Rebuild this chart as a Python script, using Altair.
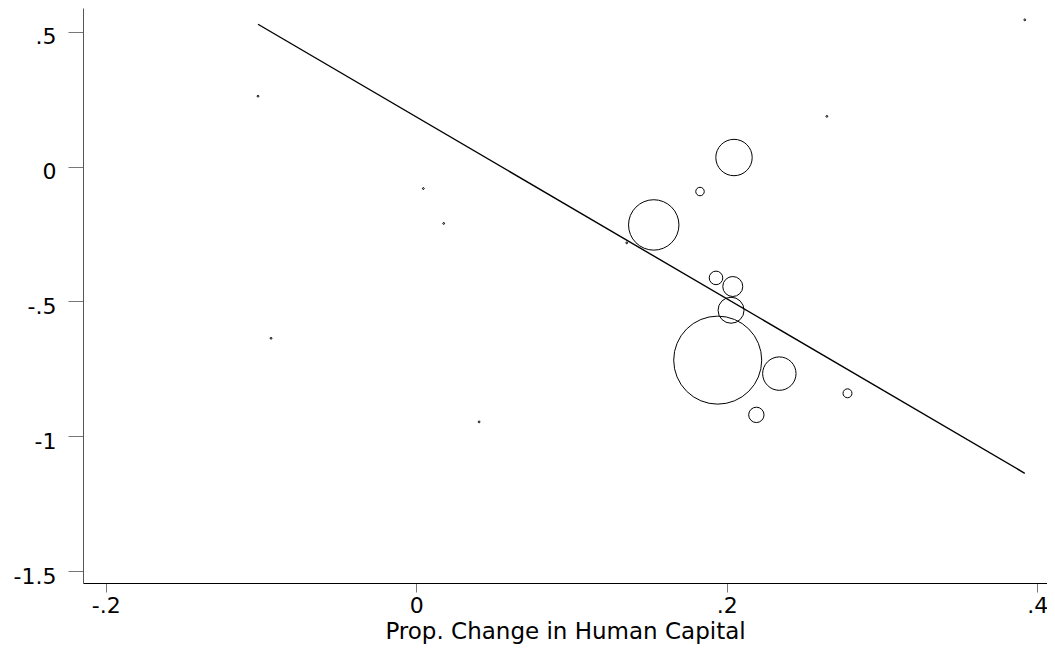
import altair as alt
import pandas as pd

# Observations: x = proportional change in human capital, y = outcome, w = weight
pt_x = [-0.1019, -0.0935, 0.0046, 0.0177, 0.0405, 0.1356, 0.2645, 0.3920,
        0.2047, 0.1828, 0.1530, 0.1931, 0.2039, 0.2028, 0.1942, 0.2339, 0.2191, 0.2778]
pt_y = [0.2608, -0.6370, -0.0816, -0.2110, -0.9470, -0.2830, 0.1860, 0.5440,
        0.0334, -0.0927, -0.2166, -0.4130, -0.4450, -0.5330, -0.7180, -0.7680, -0.9210, -0.8410]
pt_w = [0.8, 0.8, 0.8, 0.8, 0.8, 0.8, 0.8, 0.8,
        331, 18, 635, 46, 100, 169, 1936, 279, 59, 20]

# Fitted line endpoints
fit_x = [-0.1019, 0.3920]
fit_y = [0.5277, -1.1376]

pts = pd.DataFrame({"x": pt_x, "y": pt_y, "w": pt_w})
fit = pd.DataFrame({"x": fit_x, "y": fit_y})

FONT = "DejaVu Sans"
xscale = alt.Scale(domain=[-0.21462, 0.4063], nice=False, zero=False)
yscale = alt.Scale(domain=[-1.5445, 0.5879], nice=False, zero=False)
lab = "replace(replace(format(datum.value, '~g'), '\u2212', '-'), '0.', '.')"

xaxis = alt.Axis(values=[-0.2, 0, 0.2, 0.4], labelExpr=lab, grid=False,
                 domainColor="#000000", domainWidth=1, tickColor="#777777",
                 tickSize=9, labelPadding=3, labelFont=FONT, labelFontSize=22,
                 labelColor="#000000", title="Prop. Change in Human Capital",
                 titleFont=FONT, titleFontSize=23, titleFontWeight="normal",
                 titleColor="#000000", titleBaseline="alphabetic", titleY=55.5)
yaxis = alt.Axis(values=[-1.5, -1, -0.5, 0, 0.5], labelExpr=lab, grid=False,
                 domainColor="#555555", domainWidth=1, tickColor="#777777",
                 tickSize=15, labelPadding=12, labelFont=FONT, labelFontSize=22,
                 labelColor="#000000", labelOffset=5, title=None)

line = alt.Chart(fit).mark_line(color="#000000", strokeWidth=1.4).encode(
    x=alt.X("x:Q", scale=xscale, axis=xaxis),
    y=alt.Y("y:Q", scale=yscale, axis=yaxis),
)

circles = alt.Chart(pts).mark_point(shape="circle", filled=False, color="#000000",
                                    strokeWidth=1, opacity=1).encode(
    x=alt.X("x:Q", scale=xscale),
    y=alt.Y("y:Q", scale=yscale),
    size=alt.Size("w:Q", scale=alt.Scale(type="linear", domain=[0, 2000],
                                         range=[0, 8000], zero=True), legend=None),
)

chart = alt.layer(line, circles).properties(
    width=964, height=575,
    background="#ffffff",
    autosize=alt.AutoSizeParams(type="none"),
    padding={"left": 75, "top": 0, "right": 0, "bottom": 61},
).configure_view(stroke="transparent", strokeWidth=0)

chart.save("out.html", embed_options={"renderer": "svg", "actions": False})
